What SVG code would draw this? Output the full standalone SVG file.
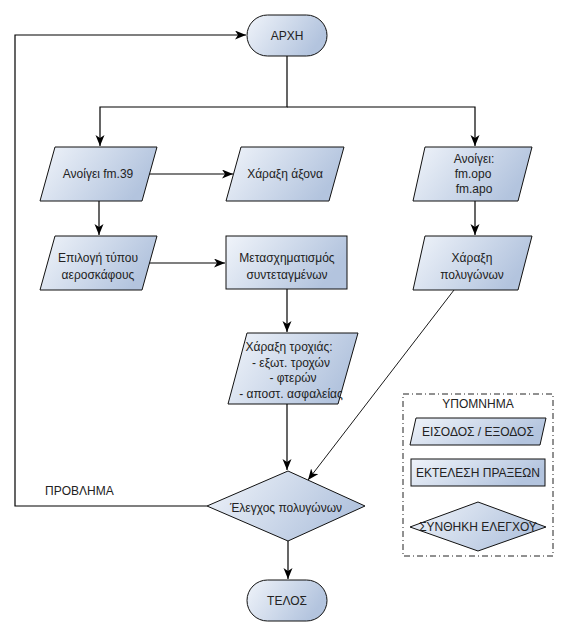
<svg xmlns="http://www.w3.org/2000/svg" width="569" height="636" viewBox="0 0 569 636">
<defs>
<linearGradient id="fill" x1="0" y1="0" x2="1" y2="0.35">
<stop offset="0" stop-color="#f0f4fa"/>
<stop offset="1" stop-color="#b3c4de"/>
</linearGradient>
<marker id="arr" markerWidth="12" markerHeight="10" refX="11" refY="4.5" orient="auto" markerUnits="userSpaceOnUse">
<path d="M0,0 L11,4.5 L0,9 L3,4.5 z" fill="#000"/>
</marker>
<style>
.shape{fill:url(#fill);stroke:#111;stroke-width:1}
.t{font-family:"Liberation Sans",Arial,sans-serif;font-size:12px;fill:#222;text-anchor:middle}
.c{fill:none;stroke:#000;stroke-width:1.2}
.a{marker-end:url(#arr)}
</style>
</defs>
<rect width="569" height="636" fill="#fff"/>

<g id="connectors">
<path class="c a" d="M207,506 H15 V35 H246"/>
<path class="c a" d="M287,56 V107 H100 V146"/>
<path class="c a" d="M287,107 H475 V146"/>
<path class="c a" d="M149,174 H233"/>
<path class="c a" d="M99,201 V235"/>
<path class="c a" d="M149,263 H225"/>
<path class="c a" d="M475,201 V235"/>
<path class="c a" d="M287,289 V332"/>
<path class="c a" d="M287,404 V470"/>
<path class="c a" d="M454,290 L308,480" style="stroke-width:0.9"/>
<path class="c a" d="M288,541 V579"/>
</g>

<g id="start">
<rect class="shape" x="247" y="15" width="80" height="41" rx="20.5"/>
<text class="t" x="287" y="40">ΑΡΧΗ</text>
</g>

<g id="open39">
<polygon class="shape" points="55,147 157,147 142,201 40,201"/>
<text class="t" x="98" y="178">Ανοίγει fm.39</text>
</g>

<g id="axis">
<polygon class="shape" points="241,147 344,147 329,201 226,201"/>
<text class="t" x="285" y="178">Χάραξη άξονα</text>
</g>

<g id="openopo">
<polygon class="shape" points="425,147 532,147 518,201 413,201"/>
<text class="t" x="474" y="163">Ανοίγει:</text>
<text class="t" x="473" y="178">fm.opo</text>
<text class="t" x="474" y="193">fm.apo</text>
</g>

<g id="aircraft">
<polygon class="shape" points="55,236 157,236 142,290 40,290"/>
<text class="t" x="98" y="262">Επιλογή τύπου</text>
<text class="t" x="98" y="279">αεροσκάφους</text>
</g>

<g id="transform">
<rect class="shape" x="226" y="236" width="121" height="53"/>
<text class="t" x="287" y="262">Μετασχηματισμός</text>
<text class="t" x="287" y="279">συντεταγμένων</text>
</g>

<g id="polygons">
<polygon class="shape" points="425,236 532,236 518,290 413,290"/>
<text class="t" x="472" y="262">Χάραξη</text>
<text class="t" x="472" y="279">πολυγώνων</text>
</g>

<g id="trajectory">
<polygon class="shape" points="247,333 358,333 338,404 228,404"/>
<text class="t" x="289" y="351">Χάραξη τροχιάς:</text>
<text class="t" x="291" y="366.5">- εξωτ. τροχών</text>
<text class="t" x="293" y="382">- φτερών</text>
<text class="t" x="291" y="397.5">- αποστ. ασφαλείας</text>
</g>

<g id="check">
<polygon class="shape" points="207,506 288,471 365,506 288,541"/>
<text class="t" x="286" y="512">Έλεγχος πολυγώνων</text>
</g>

<g id="end">
<rect class="shape" x="247" y="580" width="80" height="41" rx="20.5"/>
<text class="t" x="287" y="605">ΤΕΛΟΣ</text>
</g>

<g id="problem-label">
<text class="t" x="45" y="495" style="text-anchor:start">ΠΡΟΒΛΗΜΑ</text>
</g>

<g id="legend">
<rect x="403" y="394" width="150" height="162" fill="none" stroke="#222" stroke-width="1" stroke-dasharray="6 3 1 3"/>
<text class="t" x="478" y="408">ΥΠΟΜΝΗΜΑ</text>
<polygon class="shape" points="416,418 546,418 540,445 410,445"/>
<text class="t" x="478" y="436">ΕΙΣΟΔΟΣ / ΕΞΟΔΟΣ</text>
<rect class="shape" x="411" y="459" width="134" height="27"/>
<text class="t" x="478" y="477">ΕΚΤΕΛΕΣΗ ΠΡΑΞΕΩΝ</text>
<polygon class="shape" points="410,527 478,502 546,527 478,551"/>
<text class="t" x="478" y="531">ΣΥΝΘΗΚΗ ΕΛΕΓΧΟΥ</text>
</g>
</svg>
